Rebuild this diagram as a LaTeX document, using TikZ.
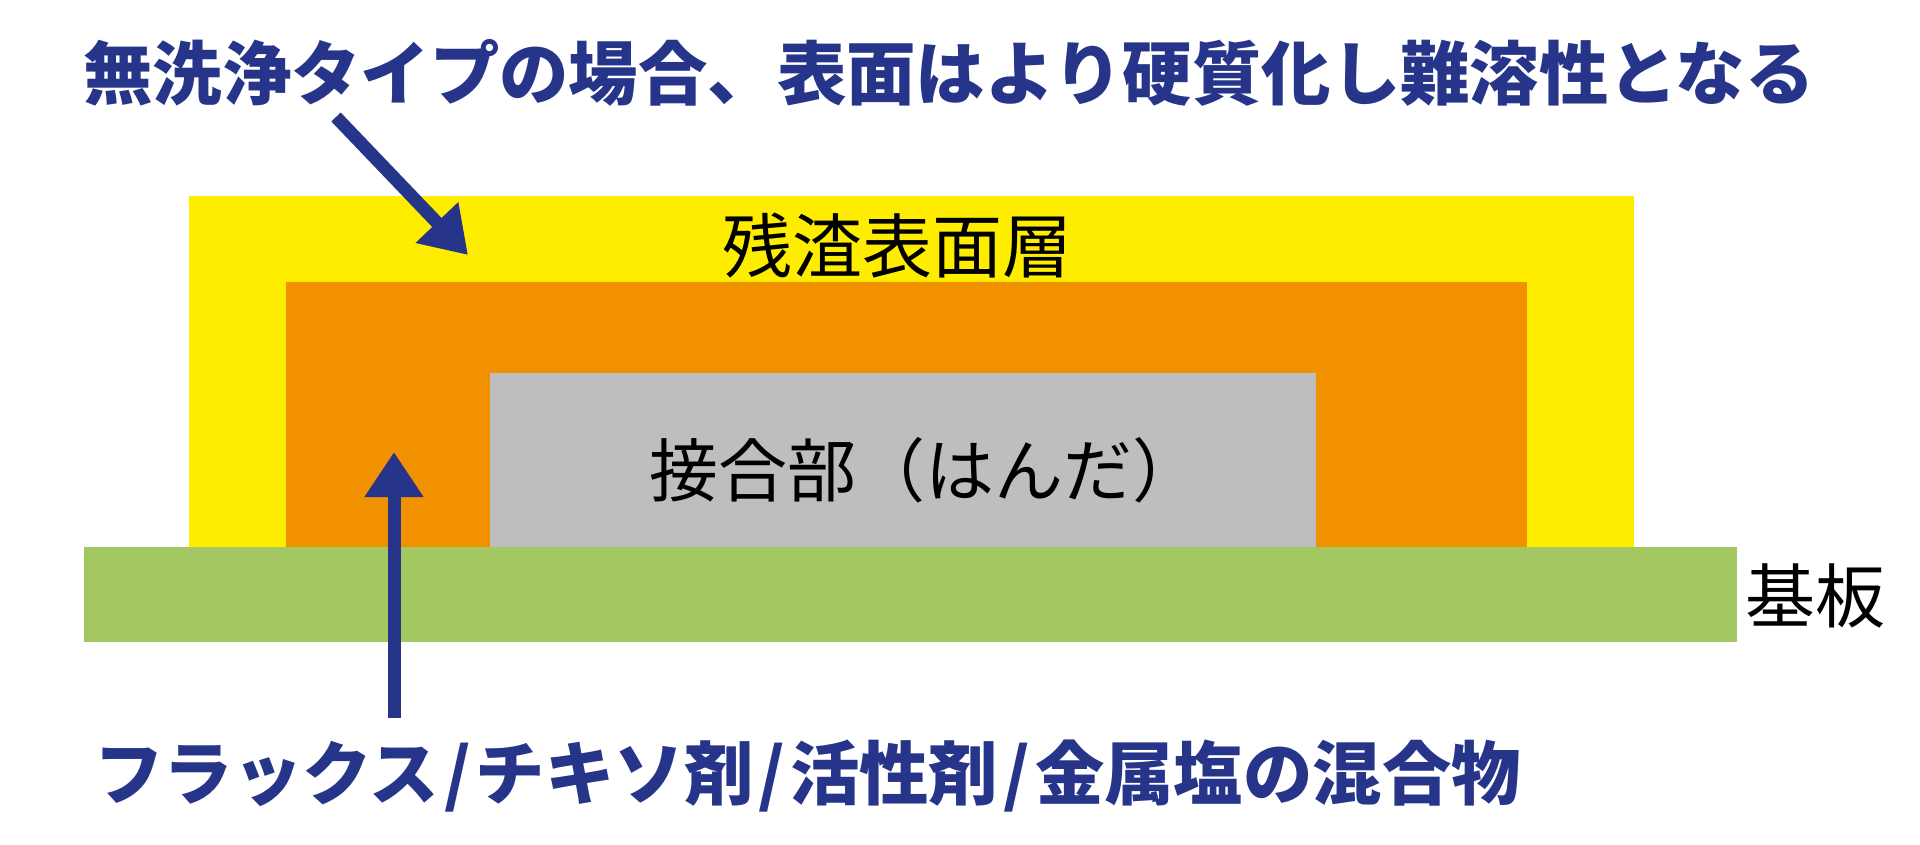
\documentclass[tikz,border=0pt]{standalone}
\usepackage{fontspec}
\setmainfont{Noto Sans CJK JP}
\usetikzlibrary{arrows.meta}
\definecolor{ylw}{HTML}{FFED00}
\definecolor{org}{HTML}{F29100}
\definecolor{gry}{HTML}{BEBEBE}
\definecolor{grn}{HTML}{A3C862}
\definecolor{blu}{HTML}{26358A}
\newcommand{\slsh}{\kern5pt/\kern5pt}
\begin{document}
\begin{tikzpicture}[x=1pt,y=-1pt,
  lbl/.style={inner sep=0pt,anchor=west,text=black,font=\fontsize{70}{70}\selectfont},
  ttl/.style={inner sep=0pt,anchor=west,text=blu,font=\bfseries\fontsize{69.4}{69.4}\selectfont},
  arr/.style={draw=blu,line width=13pt,-{Triangle[width=56pt,length=45pt]}}]
\useasboundingbox (0,0) rectangle (1920,844);
% layers
\fill[ylw] (189,196) rectangle (1634,547);
\fill[org] (286,282) rectangle (1527,547);
\fill[gry] (490,373) rectangle (1316,547);
\fill[grn] (84,547) rectangle (1737,642);
% labels
\node[lbl] (surf) at (722,246) {残渣表面層};
\node[lbl,font=\fontsize{69}{69}\selectfont] (joint) at (649,470) {接合部（はんだ）};
\node[lbl] (sub) at (1745,596) {基板};
\node[ttl] (title) at (83,73) {無洗浄タイプの場合、表面はより硬質化し難溶性となる};
\node[ttl] (mix) at (94,776) {フラックス\slsh チキソ剤\slsh 活性剤\slsh 金属塩の混合物};
% arrows
\coordinate (a1s) at (336,117);
\coordinate (a1e) at (468,255);
\coordinate (a2s) at (394,718);
\coordinate (a2e) at (394,452);
\draw[arr] (a1s) -- (a1e);
\draw[arr] (a2s) -- (a2e);
\end{tikzpicture}
\end{document}
